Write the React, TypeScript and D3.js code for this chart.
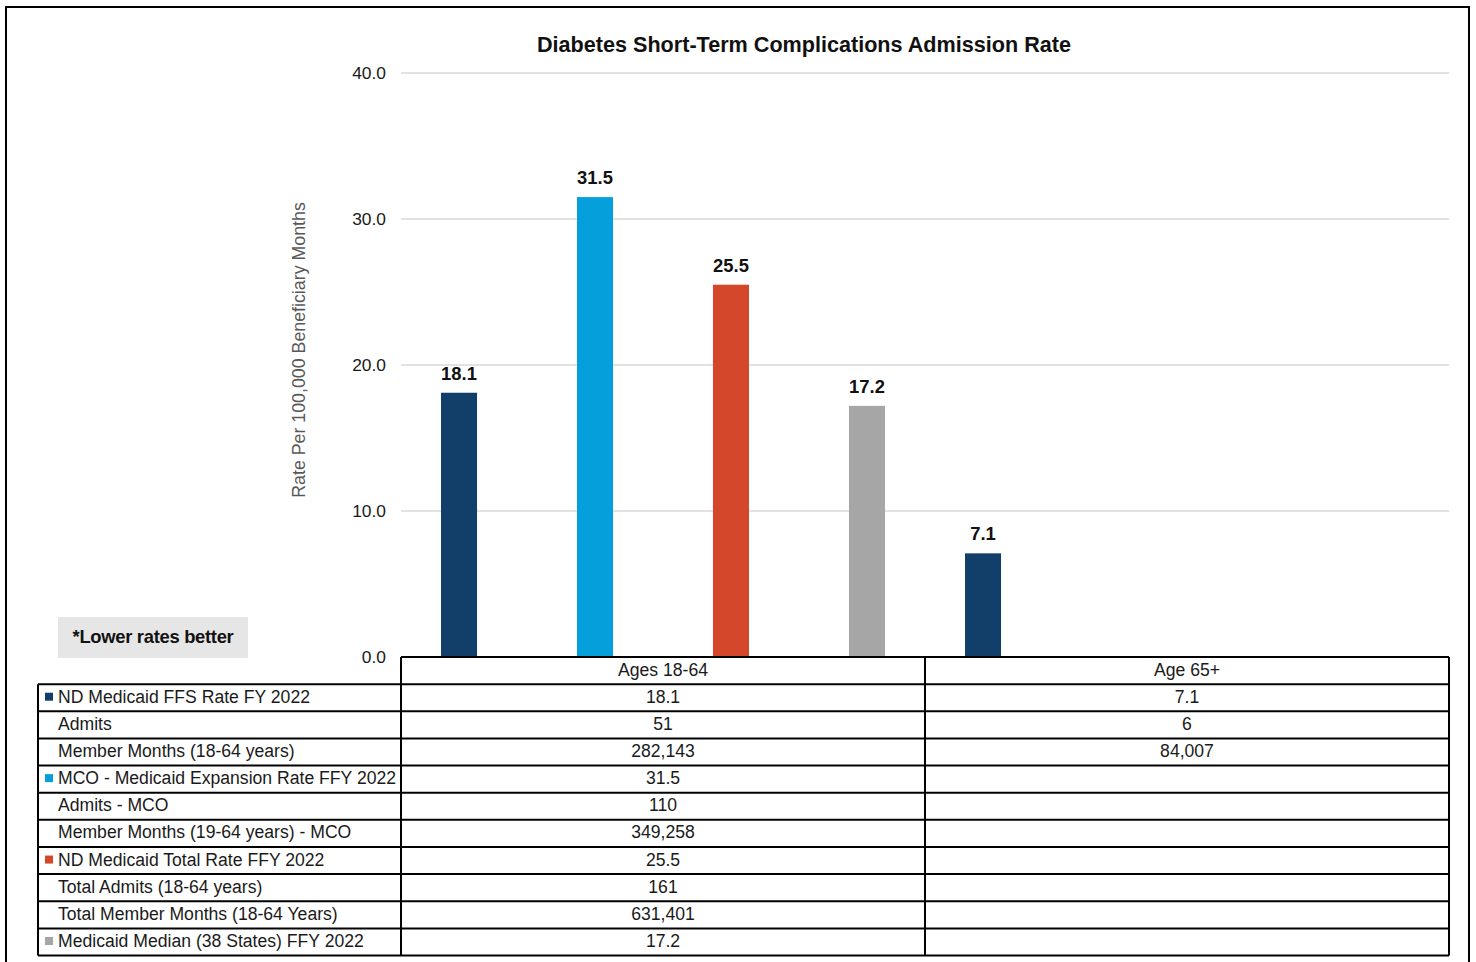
import React from "react";
import * as d3 from "d3";

const title = "Diabetes Short-Term Complications Admission Rate";
const yAxisTitle = "Rate Per 100,000 Beneficiary Months";
const categories = ["Ages 18-64", "Age 65+"];
const seriesNames = [
  "ND Medicaid FFS Rate FY 2022",
  "MCO - Medicaid Expansion Rate FFY 2022",
  "ND Medicaid Total Rate FFY 2022",
  "Medicaid Median (38 States) FFY 2022",
];
const seriesColors = ["#123f6a", "#05a0db", "#d4472a", "#a6a6a6"];
const ffsValues: (number | null)[] = [18.1, 7.1];
const mcoValues: (number | null)[] = [31.5, null];
const totalValues: (number | null)[] = [25.5, null];
const medianValues: (number | null)[] = [17.2, null];
const yTicks = [0, 10, 20, 30, 40];

const tableLabels = [
  "ND Medicaid FFS Rate FY 2022",
  "Admits",
  "Member Months (18-64 years)",
  "MCO - Medicaid Expansion Rate FFY 2022",
  "Admits - MCO",
  "Member Months (19-64 years) - MCO",
  "ND Medicaid Total Rate FFY 2022",
  "Total Admits (18-64 years)",
  "Total Member Months (18-64 Years)",
  "Medicaid Median (38 States) FFY 2022",
];
const tableKeys = [0, -1, -1, 1, -1, -1, 2, -1, -1, 3];
const tableAges1864 = ["18.1", "51", "282,143", "31.5", "110", "349,258", "25.5", "161", "631,401", "17.2"];
const tableAge65 = ["7.1", "6", "84,007", "", "", "", "", "", "", ""];

const W = 1476;
const H = 962;
const plotLeft = 401;
const plotRight = 1449;
const plotTop = 73;
const plotBottom = 657;
const tableLeft = 38;
const rowH = 27.14;
const FONT = "'Liberation Sans', Arial, sans-serif";

export default function App() {
  const seriesValues = [ffsValues, mcoValues, totalValues, medianValues];
  const x0 = d3.scaleBand<string>().domain(categories).range([plotLeft, plotRight]).padding(0);
  const x1 = d3
    .scaleBand<number>()
    .domain(d3.range(seriesNames.length))
    .range([40, 484])
    .paddingInner(0.735)
    .paddingOuter(0);
  const y = d3.scaleLinear().domain([0, 40]).range([plotBottom, plotTop]);

  const nRows = tableLabels.length;
  const rowY = (i: number) => plotBottom + (i + 1) * rowH;
  const tableBottom = plotBottom + (nRows + 1) * rowH;
  const tfs = 17.6;

  return (
    <svg
      width={W}
      height={H}
      style={{ position: "absolute", left: 0, top: 0, background: "#fff" }}
      fontFamily={FONT}
    >
      <rect x={0} y={0} width={W} height={H} fill="#fff" />
      <rect x={6} y={7} width={1463} height={970} fill="none" stroke="#000" strokeWidth={2} />

      <text x={804} y={52} textAnchor="middle" fontSize={21.6} fontWeight="bold" fill="#111">
        {title}
      </text>

      {yTicks.map((t) => (
        <g key={t}>
          {t > 0 && (
            <line x1={plotLeft} x2={plotRight} y1={y(t)} y2={y(t)} stroke="#d9d9d9" strokeWidth={1.5} />
          )}
          <text x={386} y={y(t) + 6} textAnchor="end" fontSize={17.4} fill="#1a1a1a">
            {t.toFixed(1)}
          </text>
        </g>
      ))}

      <text
        transform={`translate(305,${(plotTop + plotBottom) / 2 - 15}) rotate(-90)`}
        textAnchor="middle"
        fontSize={17.8}
        fill="#595959"
      >
        {yAxisTitle}
      </text>

      {categories.map((c, ci) =>
        seriesValues.map((vals, si) => {
          const v = vals[ci];
          if (v == null) return null;
          const bx = (x0(c) as number) + (x1(si) as number);
          const bw = x1.bandwidth();
          return (
            <g key={`${ci}-${si}`}>
              <rect x={bx} y={y(v)} width={bw} height={y(0) - y(v)} fill={seriesColors[si]} />
              <text x={bx + bw / 2} y={y(v) - 13} textAnchor="middle" fontSize={18.4} fontWeight="bold" fill="#111">
                {v.toFixed(1)}
              </text>
            </g>
          );
        })
      )}

      <rect x={58} y={617} width={190} height={41} fill="#e7e6e6" />
      <text x={153} y={643} textAnchor="middle" fontSize={18.4} fontWeight="bold" fill="#111" letterSpacing={-0.3}>
        *Lower rates better
      </text>

      <g stroke="#000" strokeWidth={2} fill="none">
        <line x1={plotLeft} x2={plotRight} y1={plotBottom} y2={plotBottom} />
        {d3.range(nRows + 1).map((i) => (
          <line key={i} x1={tableLeft} x2={plotRight} y1={rowY(i)} y2={rowY(i)} />
        ))}
        <line x1={tableLeft} x2={tableLeft} y1={rowY(0)} y2={tableBottom} />
        <line x1={plotLeft} x2={plotLeft} y1={plotBottom} y2={tableBottom} />
        <line x1={plotLeft + x0.bandwidth()} x2={plotLeft + x0.bandwidth()} y1={plotBottom} y2={tableBottom} />
        <line x1={plotRight} x2={plotRight} y1={plotBottom} y2={tableBottom} />
      </g>

      {categories.map((c) => (
        <text
          key={c}
          x={(x0(c) as number) + x0.bandwidth() / 2}
          y={plotBottom + rowH / 2 + 5}
          textAnchor="middle"
          fontSize={tfs}
          fill="#1a1a1a"
        >
          {c}
        </text>
      ))}

      {tableLabels.map((lab, i) => {
        const cy = rowY(i) + rowH / 2;
        const k = tableKeys[i];
        return (
          <g key={lab}>
            {k >= 0 && <rect x={45} y={cy - 5} width={8} height={8} fill={seriesColors[k]} />}
            <text x={58} y={cy + 5} fontSize={tfs} fill="#1a1a1a">
              {lab}
            </text>
            <text x={(x0(categories[0]) as number) + x0.bandwidth() / 2} y={cy + 5} textAnchor="middle" fontSize={tfs} fill="#1a1a1a">
              {tableAges1864[i]}
            </text>
            <text x={(x0(categories[1]) as number) + x0.bandwidth() / 2} y={cy + 5} textAnchor="middle" fontSize={tfs} fill="#1a1a1a">
              {tableAge65[i]}
            </text>
          </g>
        );
      })}
    </svg>
  );
}
